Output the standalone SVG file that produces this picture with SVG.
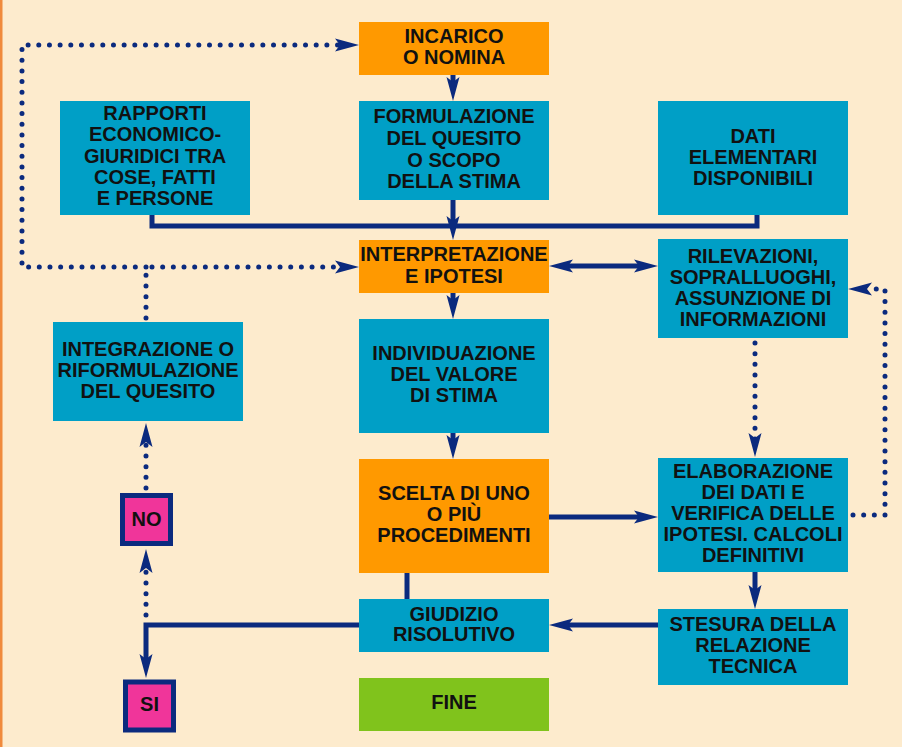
<svg xmlns="http://www.w3.org/2000/svg" width="902" height="747" viewBox="0 0 902 747">
<style>
.blue{fill:#009FC6}
.orange{fill:#FF9900}
.green{fill:#80C31C}
.pink{fill:#F0359A;stroke:#0B2A7E;stroke-width:5}
text{font-family:"Liberation Sans",Arial,sans-serif;font-weight:bold;font-size:20px;fill:#111;text-anchor:middle}
.ln{fill:none;stroke:#0B2A7E;stroke-width:5}
.dot{fill:none;stroke:#0B2A7E;stroke-width:5;stroke-dasharray:0 10.67;stroke-linecap:round}
.arr{marker-end:url(#ah)}
</style>
<defs>
<marker id="ah" viewBox="0 -8 26 16" markerWidth="26" markerHeight="16" refX="12" refY="0" orient="auto-start-reverse" markerUnits="userSpaceOnUse">
<path d="M24,0 L0,-6.5 L5,0 L0,6.5 Z" fill="#0B2A7E"/>
</marker>
</defs>
<rect x="0" y="0" width="902" height="747" fill="#FDEBCD"/>
<rect x="0" y="0" width="2.5" height="747" fill="#F08A3C"/>

<g id="connectors">
<!-- dotted loop left -->
<path class="dot" d="M146,318 V267"/>
<path class="dot" d="M146,267 H22 V45 H347"/>
<path class="dot" d="M152,267 H347"/>
<path d="M335,45 m24,0 l-24,-6.5 l5,6.5 l-5,6.5 z" fill="#0B2A7E"/>
<path d="M335,267 m24,0 l-24,-6.5 l5,6.5 l-5,6.5 z" fill="#0B2A7E"/>
<!-- main vertical -->
<path class="ln arr" d="M453,75 V89"/>
<path class="ln arr" d="M453,200 V228"/>
<path class="ln" d="M152,214 V226 H757 V214"/>
<path class="ln arr" d="M561,266 H646" style="marker-start:url(#ah)"/>
<path class="ln arr" d="M453,293 V307"/>
<path class="ln arr" d="M453,433 V447"/>
<path class="ln arr" d="M549,517 H646"/>
<path class="dot" d="M755,343 V440"/>
<path d="M755,433 m0,24 l-6.5,-24 l6.5,5 l6.5,-5 z" fill="#0B2A7E"/>
<path class="dot" d="M853,515 H885 V289 H866"/>
<path d="M872,289 m-24,0 l24,-6.5 l-5,6.5 l5,6.5 z" fill="#0B2A7E"/>
<path class="ln arr" d="M755,572 V597"/>
<path class="ln arr" d="M658,625 H561"/>
<path class="ln" d="M407,573 V599"/>
<path class="ln arr" d="M359,625 H146 V666"/>
<path class="dot" d="M146,615 V565"/>
<path d="M146,573 m0,-24 l-6.5,24 l6.5,-5 l6.5,5 z" fill="#0B2A7E"/>
<path class="dot" d="M146,488 V440"/>
<path d="M146,447 m0,-24 l-6.5,24 l6.5,-5 l6.5,5 z" fill="#0B2A7E"/>
</g>

<g id="incarico"><rect class="orange" x="359" y="22" width="190" height="53"/>
<text x="454" y="43">INCARICO</text><text x="454" y="64">O NOMINA</text></g>

<g id="formulazione"><rect class="blue" x="359" y="101" width="190" height="99"/>
<text x="454" y="123">FORMULAZIONE</text><text x="454" y="145">DEL QUESITO</text><text x="454" y="167">O SCOPO</text><text x="454" y="188">DELLA STIMA</text></g>

<g id="rapporti"><rect class="blue" x="60" y="101" width="190" height="114"/>
<text x="155" y="120">RAPPORTI</text><text x="155" y="141">ECONOMICO-</text><text x="155" y="163">GIURIDICI TRA</text><text x="155" y="184">COSE, FATTI</text><text x="155" y="205">E PERSONE</text></g>

<g id="dati"><rect class="blue" x="658" y="101" width="190" height="114"/>
<text x="753" y="143">DATI</text><text x="753" y="164">ELEMENTARI</text><text x="753" y="185">DISPONIBILI</text></g>

<g id="interpretazione"><rect class="orange" x="359" y="240" width="190" height="53"/>
<text x="454" y="261">INTERPRETAZIONE</text><text x="454" y="283">E IPOTESI</text></g>

<g id="rilevazioni"><rect class="blue" x="658" y="239" width="190" height="99"/>
<text x="753" y="263">RILEVAZIONI,</text><text x="753" y="284">SOPRALLUOGHI,</text><text x="753" y="305">ASSUNZIONE DI</text><text x="753" y="326">INFORMAZIONI</text></g>

<g id="integrazione"><rect class="blue" x="53" y="322" width="190" height="99"/>
<text x="148" y="356">INTEGRAZIONE O</text><text x="148" y="377">RIFORMULAZIONE</text><text x="148" y="398">DEL QUESITO</text></g>

<g id="individuazione"><rect class="blue" x="359" y="319" width="190" height="114"/>
<text x="454" y="360">INDIVIDUAZIONE</text><text x="454" y="381">DEL VALORE</text><text x="454" y="402">DI STIMA</text></g>

<g id="scelta"><rect class="orange" x="359" y="459" width="190" height="114"/>
<text x="454" y="500">SCELTA DI UNO</text><text x="454" y="521">O PIÙ</text><text x="454" y="542">PROCEDIMENTI</text></g>

<g id="elaborazione"><rect class="blue" x="658" y="458" width="190" height="114"/>
<text x="753" y="478">ELABORAZIONE</text><text x="753" y="499">DEI DATI E</text><text x="753" y="520">VERIFICA DELLE</text><text x="753" y="541">IPOTESI. CALCOLI</text><text x="753" y="562">DEFINITIVI</text></g>

<g id="giudizio"><rect class="blue" x="359" y="599" width="190" height="53"/>
<text x="454" y="621">GIUDIZIO</text><text x="454" y="641">RISOLUTIVO</text></g>

<g id="stesura"><rect class="blue" x="658" y="609" width="190" height="76"/>
<text x="753" y="631">STESURA DELLA</text><text x="753" y="652">RELAZIONE</text><text x="753" y="673">TECNICA</text></g>

<g id="fine"><rect class="green" x="359" y="678" width="190" height="53"/>
<text x="454" y="709">FINE</text></g>

<g id="no"><rect class="pink" x="122.5" y="495.5" width="48" height="48"/>
<text x="146.5" y="526">NO</text></g>

<g id="si"><rect class="pink" x="125.5" y="682" width="48" height="48"/>
<text x="149.5" y="711">SI</text></g>
</svg>
